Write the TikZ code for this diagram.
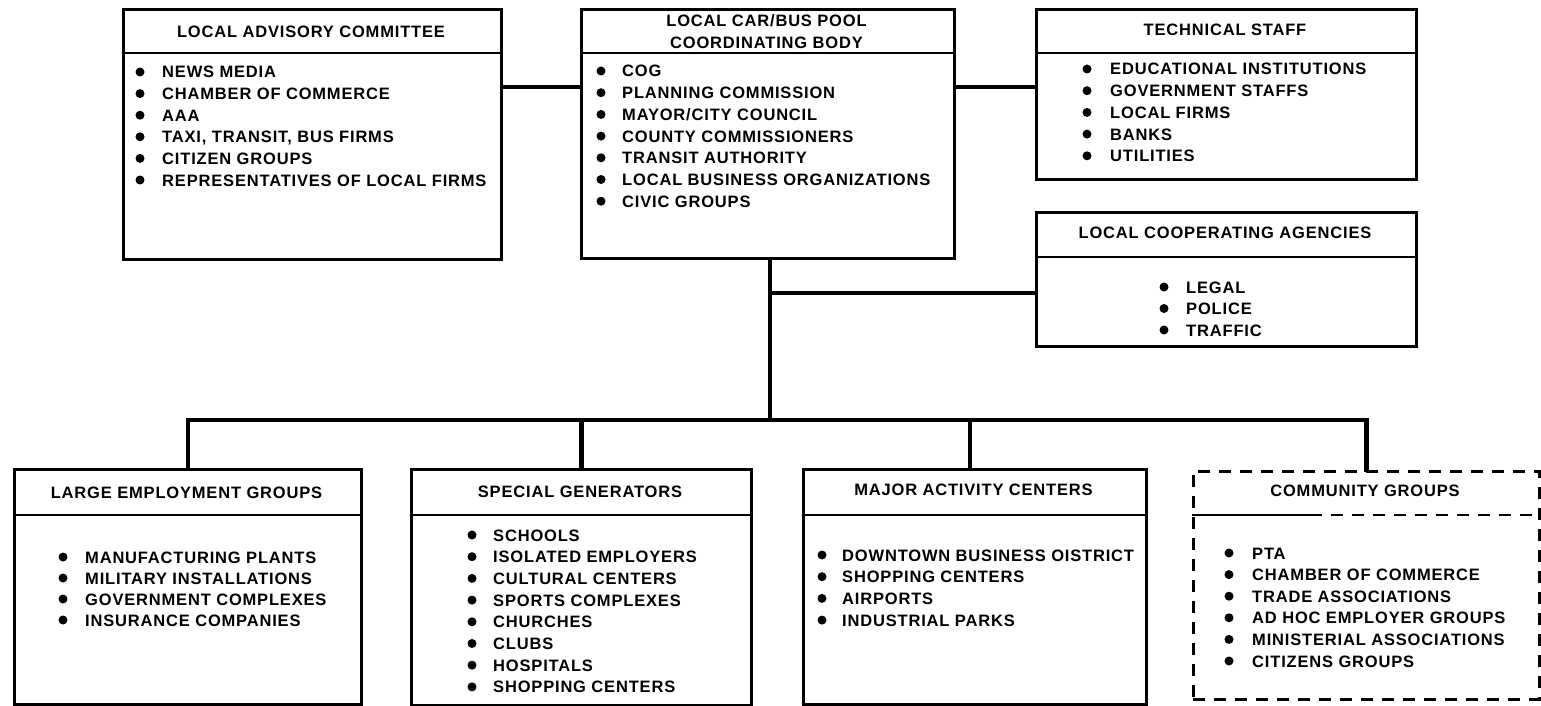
\documentclass[tikz,border=0pt]{standalone}
\usepackage{fontspec}
\setmainfont{Liberation Sans}[LetterSpace=5]
\begin{document}
\begin{tikzpicture}[x=1pt,y=-1pt,
  box/.style={draw, line width=2.8pt, rectangle, inner sep=0pt, anchor=north west},
  dbox/.style={box, dash pattern=on 12pt off 9pt},
  rule/.style={line width=2.8pt},
  conn/.style={line width=4.5pt},
  txt/.style={font=\fontsize{16.5}{22}\selectfont\bfseries, inner sep=0pt},
  head/.style={txt, align=center},
  item/.style={txt, anchor=west, text height=12pt, text depth=0pt},
  dot/.style={circle, fill, inner sep=0pt, minimum size=9pt}
]
% page frame
\useasboundingbox (0,0) rectangle (1541,706);

% framed box: name, left, top, right, bottom, header rule y, style
\newcommand\orgbox[7]{%
  \node[#7, minimum width={#4-#2}, minimum height={#5-#3}] (#1) at (#2,#3) {};
  \draw[rule] (#1.west |- 0,#6) -- (#1.east |- 0,#6);
}
% bullet list: prefix, bullet x, text x, first y, step, items
\newcommand\itemlist[6]{%
  \foreach \t [count=\i from 0] in {#6} {
    \node[dot] (#1-b\i) at ({#2},{#4+\i*#5}) {};
    \node[item] (#1-t\i) at ({#3},{#4+\i*#5}) {\t};
  }}

% ---- top row ----
\orgbox{lac}{122}{8}{500}{258}{53}{box}
\node[head] (lac-h) at (311,32) {LOCAL ADVISORY COMMITTEE};
\itemlist{lac}{140}{162}{72}{21.6}{NEWS MEDIA, CHAMBER OF COMMERCE, AAA,
  {TAXI, TRANSIT, BUS FIRMS}, CITIZEN GROUPS, REPRESENTATIVES OF LOCAL FIRMS}

\orgbox{pool}{580}{8}{953}{257}{53}{box}
\node[head] (pool-h) at (766.5,32) {LOCAL CAR/BUS POOL\\COORDINATING BODY};
\itemlist{pool}{601}{622}{71}{21.7}{COG, PLANNING COMMISSION, MAYOR/CITY COUNCIL,
  COUNTY COMMISSIONERS, TRANSIT AUTHORITY, LOCAL BUSINESS ORGANIZATIONS, CIVIC GROUPS}

\orgbox{tech}{1035}{8}{1415}{178}{53}{box}
\node[head] (tech-h) at (1225,30) {TECHNICAL STAFF};
\itemlist{tech}{1087}{1110}{69}{21.7}{EDUCATIONAL INSTITUTIONS, GOVERNMENT STAFFS,
  LOCAL FIRMS, BANKS, UTILITIES}

\orgbox{agency}{1035}{211}{1415}{345}{257}{box}
\node[head] (agency-h) at (1225,233) {LOCAL COOPERATING AGENCIES};
\itemlist{agency}{1164}{1186}{287}{21.5}{LEGAL, POLICE, TRAFFIC}

% ---- bottom row ----
\orgbox{leg}{13}{468}{360}{703}{515}{box}
\node[head] (leg-h) at (186.5,493) {LARGE EMPLOYMENT GROUPS};
\itemlist{leg}{63}{85}{557}{21}{MANUFACTURING PLANTS, MILITARY INSTALLATIONS,
  GOVERNMENT COMPLEXES, INSURANCE COMPANIES}

\orgbox{sg}{410}{468}{750}{704}{515}{box}
\node[head] (sg-h) at (580,492) {SPECIAL GENERATORS};
\itemlist{sg}{472}{493}{535}{21.7}{SCHOOLS, ISOLATED EMPLOYERS, CULTURAL CENTERS,
  SPORTS COMPLEXES, CHURCHES, CLUBS, HOSPITALS, SHOPPING CENTERS}

\orgbox{mac}{802}{468}{1145}{703}{515}{box}
\node[head] (mac-h) at (973.5,490) {MAJOR ACTIVITY CENTERS};
\itemlist{mac}{822}{842}{555}{21.7}{DOWNTOWN BUSINESS OISTRICT, SHOPPING CENTERS,
  AIRPORTS, INDUSTRIAL PARKS}

\node[dbox, minimum width=346, minimum height=228] (cg) at (1192,470) {};
\draw[rule] (cg.west |- 0,515) -- (1310,515);
\draw[rule, dash pattern=on 12pt off 9pt] (1310,515) -- (cg.east |- 0,515);
\node[head] (cg-h) at (1365,491) {COMMUNITY GROUPS};
\itemlist{cg}{1229}{1252}{553}{21.6}{PTA, CHAMBER OF COMMERCE, TRADE ASSOCIATIONS,
  AD HOC EMPLOYER GROUPS, MINISTERIAL ASSOCIATIONS, CITIZENS GROUPS}

% ---- connectors ----
\coordinate (bus) at (770,420);
\coordinate (agj) at (770,293);
\draw[conn] ([yshift=-79pt]lac.north east) -- ([yshift=-79pt]pool.north west);
\draw[conn] ([yshift=-79pt]pool.north east) -- ([yshift=-79pt]tech.north west);
\draw[conn] (pool.south -| bus) -- (bus);
\draw[conn] (agj) -- (agency.west |- agj);
\draw[conn, line cap=rect] (leg.north) -- (leg.north |- bus) -- (cg.north |- bus) -- (cg.north);
\draw[conn] (sg.north) -- (sg.north |- bus);
\draw[conn] ([xshift=-5pt]mac.north) -- ([xshift=-5pt]mac.north |- bus);
\end{tikzpicture}
\end{document}
